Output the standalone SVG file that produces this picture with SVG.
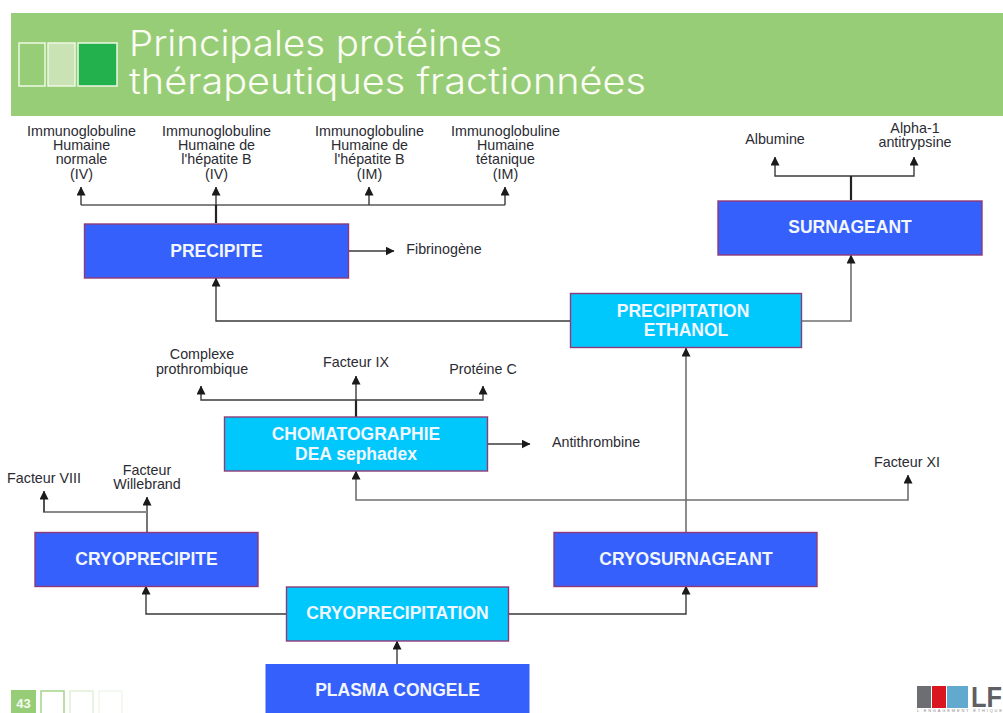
<svg xmlns="http://www.w3.org/2000/svg" width="1003" height="713" viewBox="0 0 1003 713">
<defs>
<marker id="a" viewBox="0 0 9 9" refX="8.5" refY="4.5" markerWidth="9" markerHeight="9" markerUnits="userSpaceOnUse" orient="auto"><path d="M0 0L9 4.500L0 9Z" fill="#1a1a1a"/></marker>
</defs>
<style>
text{font-family:"Liberation Sans",Arial,sans-serif}
.n{stroke:#8f3a78;stroke-width:1.400}
.b{fill:#3660fb}
.c{fill:#00c8fd}
.t{fill:#f2f6ff;font-size:17.500px;font-weight:700;text-anchor:middle}
.l{fill:#2b2b33;font-size:14.300px;text-anchor:middle}
.w{fill:none;stroke:#3a3a3a;stroke-width:1.400;marker-end:url(#a)}
.v{fill:none;stroke:#707070;stroke-width:1.600;marker-end:url(#a)}
.s{fill:none;stroke:#222;stroke-width:2.200}
.g{fill:none;stroke:#5a5a5a;stroke-width:1.500}
.h{font-family:Inter,Lato,sans-serif;font-weight:300;font-size:36px;fill:#fbfdf4}
</style>
<g id="header">
<rect x="11" y="13" width="992" height="103" fill="#98cd78"/>
<rect x="19" y="43" width="26" height="43" fill="#98cd78" stroke="#eef7e4" stroke-width="1.500"/>
<rect x="48" y="43" width="27" height="43" fill="#c9e3b4" stroke="#eef7e4" stroke-width="1.500"/>
<rect x="78" y="43" width="39" height="43" fill="#22b14c" stroke="#eef7e4" stroke-width="1.500"/>
<text class="h" x="129" y="56" textLength="373" lengthAdjust="spacingAndGlyphs">Principales protéines</text>
<text class="h" x="129" y="94" textLength="517" lengthAdjust="spacingAndGlyphs">thérapeutiques fractionnées</text>
</g>
<g id="connectors">
<path class="g" d="M81 205H505"/>
<path class="w" d="M81 205V187"/>
<path class="w" d="M216 205V187"/>
<path class="s" d="M216 223V205"/>
<path class="w" d="M369 205V187"/>
<path class="w" d="M505 205V187"/>
<path class="w" d="M349 251H394"/>
<path class="w" d="M570 321H216V278"/>
<path class="v" d="M802 321H851V255"/>
<path class="w" d="M851 176H775V157"/>
<path class="w" d="M851 176H914V157"/>
<path class="s" d="M851 200V176"/>
<path class="w" d="M356 400V376"/>
<path class="s" d="M356 417V400"/>
<path class="w" d="M356 400H201V386"/>
<path class="w" d="M356 400H483V386"/>
<path class="w" d="M488 444H530"/>
<path class="v" d="M686 532V348"/>
<path class="v" d="M686 500H356V471"/>
<path class="v" d="M686 500H908V475"/>
<path class="w" d="M147 532V497"/>
<path d="M147 512H44V493" fill="none" stroke="#888" stroke-width="2"/>
<path class="w" d="M44 512V491"/>
<path class="w" d="M286 614H146V586"/>
<path class="w" d="M509 614H686V586"/>
<path class="w" d="M397 664V641"/>
</g>
<g id="precipite"><rect class="n b" x="84.500" y="224" width="264" height="54"/><text class="t" x="216.500" y="256.500">PRECIPITE</text></g>
<g id="surnageant"><rect class="n b" x="718" y="201" width="264" height="54"/><text class="t" x="850" y="233">SURNAGEANT</text></g>
<g id="precipitation-ethanol"><rect class="n c" x="570.500" y="293.500" width="231" height="54"/><text class="t" x="683" y="317">PRECIPITATION</text><text class="t" x="686" y="336">ETHANOL</text></g>
<g id="chromatographie"><rect class="n c" x="224.500" y="417" width="263" height="54"/><text class="t" x="356" y="440">CHOMATOGRAPHIE</text><text class="t" x="356" y="460">DEA sephadex</text></g>
<g id="cryoprecipite"><rect class="n b" x="35" y="532.500" width="223" height="54"/><text class="t" x="146.500" y="565">CRYOPRECIPITE</text></g>
<g id="cryosurnageant"><rect class="n b" x="554" y="532.500" width="263" height="54"/><text class="t" x="686" y="565">CRYOSURNAGEANT</text></g>
<g id="cryoprecipitation"><rect class="n c" x="286.500" y="587" width="222" height="54"/><text class="t" x="397.500" y="619">CRYOPRECIPITATION</text></g>
<g id="plasma"><rect x="265.500" y="664" width="264" height="49" fill="#3660fb"/><text class="t" x="397.500" y="696">PLASMA CONGELE</text></g>
<g id="labels">
<g id="ig1"><text class="l" x="81.500" y="136">Immunoglobuline</text><text class="l" x="81.500" y="150">Humaine</text><text class="l" x="81.500" y="164">normale</text><text class="l" x="81.500" y="179">(IV)</text></g>
<g id="ig2"><text class="l" x="216.500" y="136">Immunoglobuline</text><text class="l" x="216.500" y="150">Humaine de</text><text class="l" x="216.500" y="164">l'hépatite B</text><text class="l" x="216.500" y="179">(IV)</text></g>
<g id="ig3"><text class="l" x="369.500" y="136">Immunoglobuline</text><text class="l" x="369.500" y="150">Humaine de</text><text class="l" x="369.500" y="164">l'hépatite B</text><text class="l" x="369.500" y="179">(IM)</text></g>
<g id="ig4"><text class="l" x="505.500" y="136">Immunoglobuline</text><text class="l" x="505.500" y="150">Humaine</text><text class="l" x="505.500" y="164">tétanique</text><text class="l" x="505.500" y="179">(IM)</text></g>
<g id="albumine"><text class="l" x="775" y="144">Albumine</text></g>
<g id="alpha"><text class="l" x="915" y="133">Alpha-1</text><text class="l" x="915" y="147">antitrypsine</text></g>
<g id="fibrinogene"><text class="l" x="444" y="254">Fibrinogène</text></g>
<g id="complexe"><text class="l" x="202" y="359">Complexe</text><text class="l" x="202" y="374">prothrombique</text></g>
<g id="f9"><text class="l" x="356" y="367">Facteur IX</text></g>
<g id="protc"><text class="l" x="483" y="374">Protéine C</text></g>
<g id="antithrombine"><text class="l" x="596" y="447">Antithrombine</text></g>
<g id="f11"><text class="l" x="907" y="467">Facteur XI</text></g>
<g id="f8"><text class="l" x="44" y="483">Facteur VIII</text></g>
<g id="fw"><text class="l" x="147" y="475">Facteur</text><text class="l" x="147" y="489">Willebrand</text></g>
</g>
<g id="footer">
<rect x="11" y="690" width="25" height="23" fill="#98cd78"/>
<text x="23.500" y="708" font-size="13" font-weight="700" fill="#f5fbf0" text-anchor="middle">43</text>
<rect x="41" y="691" width="23" height="24" fill="none" stroke="#a5d48a" stroke-width="1.500"/>
<rect x="70" y="691" width="23" height="24" fill="none" stroke="#e2f0d8" stroke-width="1.500"/>
<rect x="99" y="691" width="23" height="24" fill="none" stroke="#eff7ea" stroke-width="1.500"/>
</g>
<g id="logo">
<rect x="917" y="686" width="14" height="22" fill="#6d6e71"/>
<rect x="932" y="686" width="14" height="22" fill="#d9161f"/>
<rect x="947" y="686" width="21" height="22" fill="#61a9cf"/>
<text x="971" y="706.500" font-size="29" font-weight="700" fill="#5f6063" textLength="31" lengthAdjust="spacingAndGlyphs">LF</text>
<text x="917" y="711.500" font-size="4" fill="#8a8a8a" textLength="85" lengthAdjust="spacing">L'ENGAGEMENT ÉTHIQUE</text>
</g>
</svg>
